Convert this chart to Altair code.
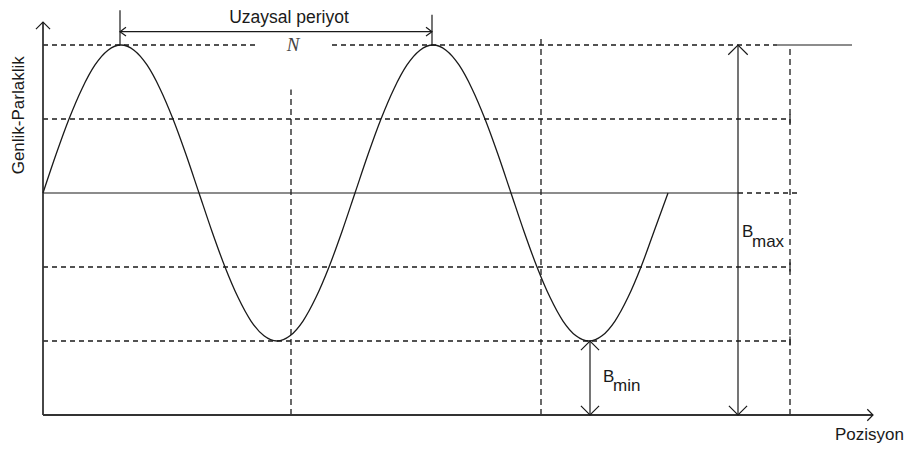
import altair as alt
import pandas as pd

# ---------------- data (position along x, brightness level along y) ----------------
# sine curve
curve_pos = [0, 13, 26, 39, 52, 65, 78, 91, 104, 117, 130, 143, 156, 169, 182, 195,
             208, 221, 234, 247, 260, 273, 286, 299, 312, 325, 338, 351, 364, 377,
             390, 403, 416, 429, 442, 455, 468, 481, 494, 507, 520, 533, 546, 559,
             572, 585, 598, 611, 625]
curve_level = [3.00, 3.52, 4.00, 4.41, 4.73, 4.93, 5.00, 4.93, 4.73, 4.41, 4.00, 3.52,
               3.00, 2.48, 2.00, 1.59, 1.27, 1.07, 1.00, 1.07, 1.27, 1.59, 2.00, 2.48,
               3.00, 3.52, 4.00, 4.41, 4.73, 4.93, 5.00, 4.93, 4.73, 4.41, 4.00, 3.52,
               3.00, 2.48, 2.00, 1.59, 1.27, 1.07, 1.00, 1.07, 1.27, 1.59, 2.00, 2.48,
               3.00]

# key levels
level_axis = 0
level_min = 1
level_mid = 3
level_max = 5
guide_levels = [4, 2, 1]

# key positions
peak1 = 77
peak2 = 389
trough2 = 547
bmax_pos = 695
guide_end = 747
vguide_pos = [248, 498, 747]
vguide_top = [4.40, 5.11, 5.00]
axis_x_end = 830
axis_y_end = 5.31
period_line_level = 5.18
ext_top = [5.47, 5.41]
top_line = [734, 809]
max_gap = [212, 289]
mid_dash_end = 757

# texts
label_period = "Uzaysal periyot"
label_N = "N"
label_y = "Genlik-Parlaklik"
label_x = "Pozisyon"

INK = "#1a1a1a"
W, H = 896, 436
xs = alt.Scale(domain=[-35, 861], nice=False, zero=False)
ys = alt.Scale(domain=[-29 / 74, 407 / 74], nice=False, zero=False)


def seg(rows):
    return pd.DataFrame(rows, columns=["x", "y", "x2", "y2"])


def rules(df, dash=None, width=1.2, color=INK):
    kw = dict(color=color, strokeWidth=width)
    if dash:
        kw["strokeDash"] = dash
    return alt.Chart(df).mark_rule(**kw).encode(
        x=alt.X("x:Q", scale=xs, axis=None),
        y=alt.Y("y:Q", scale=ys, axis=None),
        x2="x2:Q",
        y2="y2:Q",
    )


def heads(df, shape, width=1.2):
    return alt.Chart(df).mark_point(
        shape=shape, filled=False, color=INK, strokeWidth=width, opacity=1
    ).encode(
        x=alt.X("x:Q", scale=xs, axis=None),
        y=alt.Y("y:Q", scale=ys, axis=None),
        angle=alt.Angle("a:Q", scale=None),
        size=alt.Size("s:Q", scale=None),
    )


def texts(df, **kw):
    base = dict(font="Liberation Sans", fontSize=17, color=INK, baseline="alphabetic")
    base.update(kw)
    return alt.Chart(df).mark_text(**base).encode(
        x=alt.X("x:Q", scale=xs, axis=None),
        y=alt.Y("y:Q", scale=ys, axis=None),
        text="t:N",
    )


# axes
axes = rules(seg([
    (0, level_axis, 0, axis_y_end),
    (0, level_axis, axis_x_end, level_axis),
]), width=1.8, color="#333333")

# solid lines
solid = rules(seg([
    (0, level_mid, bmax_pos, level_mid),
    (top_line[0], level_max, top_line[1], level_max),
    (peak1, level_max, peak1, ext_top[0]),
    (peak2, level_max, peak2, ext_top[1]),
    (peak1, period_line_level, peak2, period_line_level),
    (bmax_pos, level_axis, bmax_pos, level_max),
    (trough2, level_axis, trough2, level_min),
] + [(guide_end, lv - 0.06, guide_end, lv + 0.06) for lv in guide_levels]))

# dashed horizontal guides
hdash = rules(seg([
    (0, level_max, max_gap[0], level_max),
    (max_gap[1], level_max, top_line[0], level_max),
    (bmax_pos, level_mid, mid_dash_end, level_mid),
] + [(0, lv, guide_end, lv) for lv in guide_levels]), dash=[5, 4], width=1.3)

# dashed vertical guides
vdash = rules(seg([(p, level_axis, p, t) for p, t in zip(vguide_pos, vguide_top)]),
              dash=[6, 4], width=1.3)

# curve
curve = alt.Chart(pd.DataFrame({"x": curve_pos, "y": curve_level})).mark_line(
    interpolate="monotone", color=INK, strokeWidth=1.3
).encode(
    x=alt.X("x:Q", scale=xs, axis=None),
    y=alt.Y("y:Q", scale=ys, axis=None),
)

# arrow heads (apex at the point, 0 = up)
big = heads(pd.DataFrame([
    dict(x=bmax_pos, y=level_max, a=0, s=380),
    dict(x=bmax_pos, y=level_axis, a=180, s=330),
    dict(x=trough2, y=level_min, a=0, s=330),
    dict(x=trough2, y=level_axis, a=180, s=330),
    dict(x=0, y=axis_y_end, a=0, s=200),
    dict(x=axis_x_end, y=level_axis, a=90, s=130),
]), "M-1,1L0,0L1,1")
small = heads(pd.DataFrame([
    dict(x=peak1, y=period_line_level, a=270, s=144),
    dict(x=peak2, y=period_line_level, a=90, s=144),
]), "M-0.72,1L0,0L0.72,1")

# labels
t_period = texts(pd.DataFrame([dict(x=246, y=5.297, t=label_period)]), fontSize=17.5, align="center")
t_N = texts(pd.DataFrame([dict(x=250, y=4.92, t=label_N)]), font="Liberation Serif",
            fontStyle="italic", fontSize=19, color="#444444", align="center")
t_y = texts(pd.DataFrame([dict(x=-19, y=4.05, t=label_y)]), angle=270, align="center")
t_x = texts(pd.DataFrame([dict(x=792, y=-0.34, t=label_x)]), align="left")
t_B = texts(pd.DataFrame([
    dict(x=699, y=2.40, t="B"),
    dict(x=560, y=0.45, t="B"),
]), align="left")
t_sub = texts(pd.DataFrame([
    dict(x=709, y=2.27, t="max"),
    dict(x=570, y=0.32, t="min"),
]), align="left")

chart = alt.layer(
    hdash, vdash, solid, axes, curve, big, small,
    t_period, t_N, t_y, t_x, t_B, t_sub,
).properties(
    width=W, height=H, padding=0, autosize="none", background="white"
).configure_view(stroke=None)

chart.save("out.html", embed_options={"renderer": "svg", "actions": False})
